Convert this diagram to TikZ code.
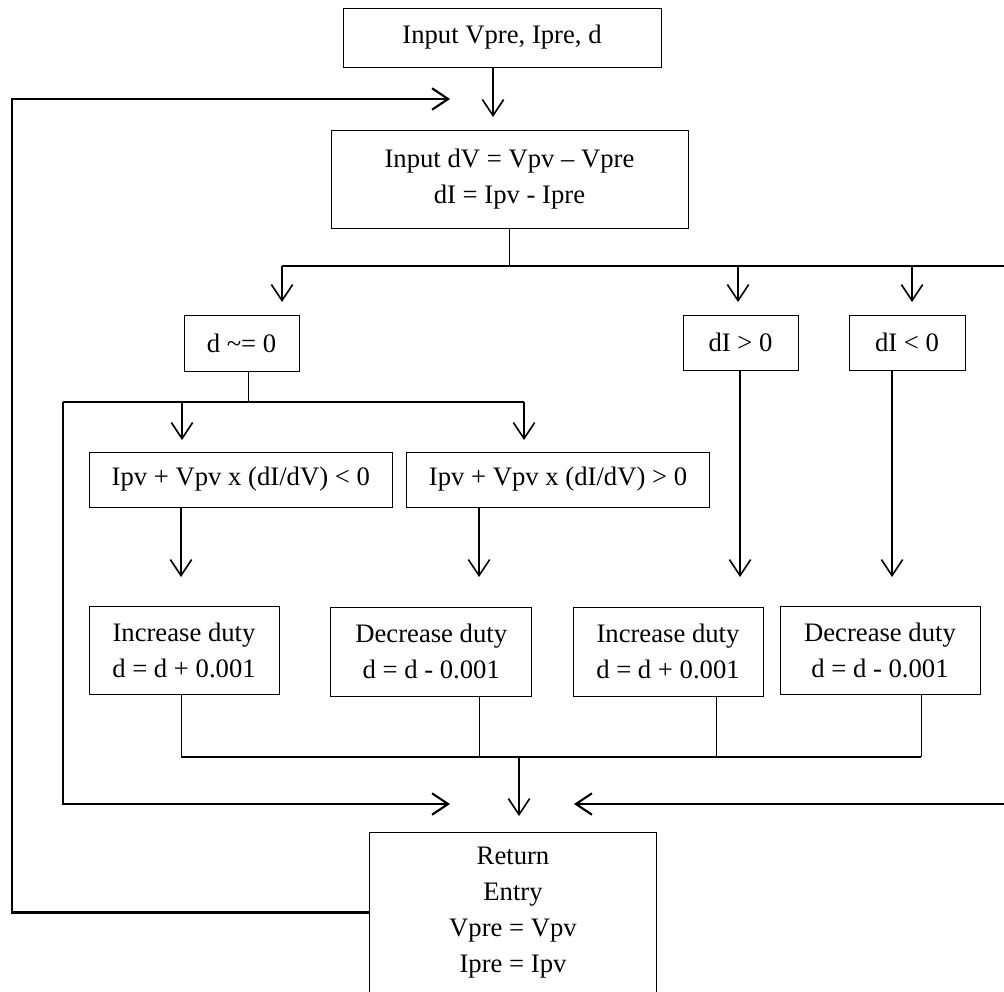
\documentclass[tikz,border=0pt]{standalone}
\usepackage{fontspec}
\setmainfont{Liberation Serif}
\usetikzlibrary{arrows.meta,calc}
\begin{document}
\begin{tikzpicture}[x=0.75pt,y=-0.75pt,
  box/.style={draw, line width=0.75pt, inner sep=0pt, align=center,
    font=\fontsize{20}{27}\selectfont},
  arr/.style={line width=1.2pt, -{Straight Barb[length=12pt,width=16pt,line width=1.2pt]}},
  harr/.style={line width=1.6pt, -{Straight Barb[length=12pt,width=16pt,line width=1.6pt]}},
  bus/.style={line width=1.6pt},
  thinl/.style={line width=0.75pt}]
\useasboundingbox (0,0) rectangle (1004,992);

% boxes
\node[box, minimum width=238.5pt, minimum height=44.25pt] (top) at (502,37.5) {Input Vpre, Ipre, d};
\node[box, minimum width=267.75pt, minimum height=73.5pt] (calc) at (509.5,179) {Input dV = Vpv – Vpre\\dI = Ipv - Ipre};
\node[box, minimum width=86.25pt, minimum height=42pt] (dz) at (241.5,343) {d \textasciitilde= 0};
\node[box, minimum width=86.25pt, minimum height=41.25pt] (dp) at (740.5,342.5) {dI > 0};
\node[box, minimum width=87pt, minimum height=41.25pt] (dn) at (907,342.5) {dI < 0};
\node[box, minimum width=227.6pt, minimum height=41.25pt] (ip1) at (240.75,479.5) {Ipv + Vpv x (dI/dV) < 0};
\node[box, minimum width=227.25pt, minimum height=41.25pt] (ip2) at (558,479.5) {Ipv + Vpv x (dI/dV) > 0};
\node[box, minimum width=142.5pt, minimum height=66pt] (inc1) at (184,650) {Increase duty\\d = d + 0.001};
\node[box, minimum width=150.4pt, minimum height=66.75pt] (dec1) at (431.25,651.5) {Decrease duty\\d = d - 0.001};
\node[box, minimum width=142.5pt, minimum height=66.75pt] (inc2) at (668,651.5) {Increase duty\\d = d + 0.001};
\node[box, minimum width=150pt, minimum height=66pt] (dec2) at (880,650) {Decrease duty\\d = d - 0.001};
\node[box, minimum width=215pt, minimum height=120.75pt] (ret) at (513,912.5) {Return\\Entry\\Vpre = Vpv\\Ipre = Ipv};

% coordinates
\coordinate (inA) at (493,117);
\coordinate (fbX) at (12,0);
\coordinate (fbT) at (450,99);
\coordinate (b1L) at (282,266);
\coordinate (b1M) at (738,266);
\coordinate (b1N) at (912,266);
\coordinate (b1R) at (1004,266);
\coordinate (t1) at (282,302);
\coordinate (t2) at (738,302);
\coordinate (t3) at (912,302);
\coordinate (b2L) at (63,402);
\coordinate (b2A) at (182,402);
\coordinate (b2R) at (524,402);
\coordinate (dzB) at (248,402);
\coordinate (t4) at (182,440);
\coordinate (t5) at (524,440);
\coordinate (x181) at (181,577);
\coordinate (x479) at (479,577);
\coordinate (x740) at (740,577);
\coordinate (x892) at (892,577);
\coordinate (b3A) at (181,757);
\coordinate (b3B) at (479,757);
\coordinate (b3C) at (716.5,757);
\coordinate (b3D) at (921,757);
\coordinate (b3M) at (519,757);
\coordinate (t6) at (519,816);
\coordinate (lB) at (63,804);
\coordinate (lT) at (450,804);
\coordinate (rE) at (1004,804);
\coordinate (rT) at (574,804);

% connectors
\draw[arr] (top.south -| inA) -- (inA);
\draw[harr] (ret.west) -- (ret.west -| fbX) |- (fbT);
\draw[thinl] (calc.south) -- (calc.south |- b1L);
\draw[bus] (b1L) -- (b1R);
\draw[arr] (b1L) -- (t1);
\draw[arr] (b1M) -- (t2);
\draw[arr] (b1N) -- (t3);
\draw[thinl] (dz.south -| dzB) -- (dzB);
\draw[bus] (b2A) -- (b2R);
\draw[harr] (b2L) -- (lB) -- (lT);
\draw[bus] (b2L) -- (b2A);
\draw[arr] (b2A) -- (t4);
\draw[arr] (b2R) -- (t5);
\draw[arr] (ip1.south -| x181) -- (x181);
\draw[arr] (ip2.south -| x479) -- (x479);
\draw[arr] (dp.south -| x740) -- (x740);
\draw[arr] (dn.south -| x892) -- (x892);
\draw[thinl] (inc1.south -| b3A) -- (b3A);
\draw[thinl] (dec1.south -| b3B) -- (b3B);
\draw[thinl] (inc2.south -| b3C) -- (b3C);
\draw[thinl] (dec2.south -| b3D) -- (b3D);
\draw[bus] (b3A) -- (b3D);
\draw[arr] (b3M) -- (t6);
\draw[harr] (rE) -- (rT);
\end{tikzpicture}
\end{document}
